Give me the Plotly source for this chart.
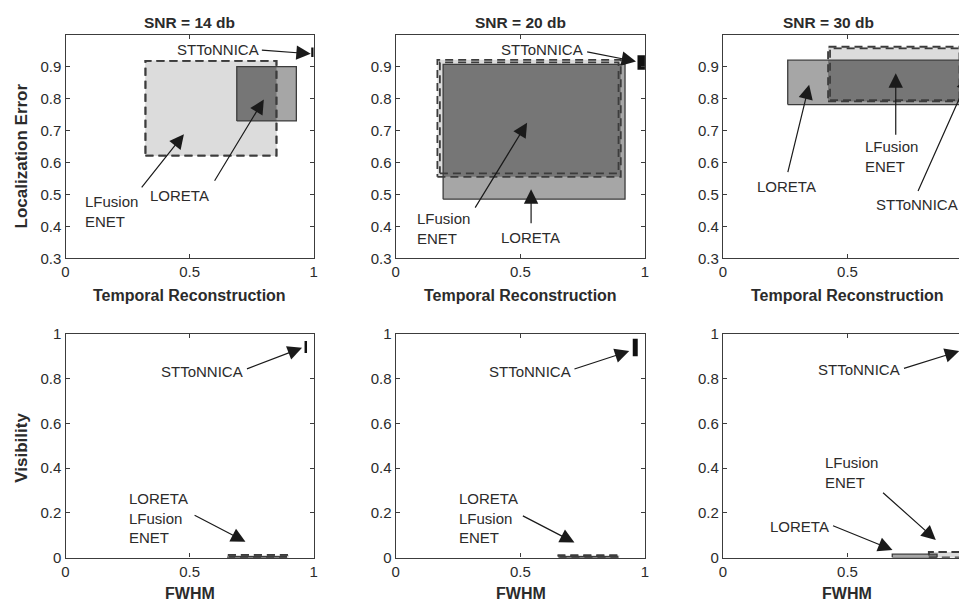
import plotly.graph_objects as go

# ---------------- data ----------------
snr_titles = ["SNR = 14 db", "SNR = 20 db", "SNR = 30 db"]
x_ticks = [0, 0.5, 1]
x_ticktext = ["0", "0.5", "1"]
le_ticks = [0.3, 0.4, 0.5, 0.6, 0.7, 0.8, 0.9]
vis_ticks = [0, 0.2, 0.4, 0.6, 0.8, 1]
vis_ticktext = ["0", "0.2", "0.4", "0.6", "0.8", "1"]

# boxes as [x0, x1, y0, y1]  (Temporal Reconstruction vs Localization Error)
loreta_le = [[0.69, 0.93, 0.73, 0.90], [0.19, 0.92, 0.485, 0.907], [0.26, 0.955, 0.781, 0.92]]
lfusion_le = [[0.322, 0.85, 0.621, 0.918], [0.167, 0.903, 0.555, 0.921], [0.422, 0.956, 0.791, 0.962]]
enet_le = [[0.322, 0.85, 0.621, 0.918], [0.177, 0.894, 0.566, 0.913], [0.43, 0.950, 0.795, 0.957]]
sttonnica_le = [[0.99, 1.0, 0.93, 0.96], [0.97, 1.0, 0.89, 0.935], [0.985, 1.0, 0.90, 0.96]]

# boxes as [x0, x1, y0, y1]  (FWHM vs Visibility)
loreta_vis = [[0.66, 0.89, 0.0, 0.004], [0.66, 0.89, 0.0, 0.004], [0.68, 0.86, 0.0, 0.015]]
lfusion_vis = [[0.651, 0.899, 0.0, 0.012], [0.653, 0.897, 0.0, 0.010], [0.827, 0.956, 0.0, 0.025]]
enet_vis = [[0.651, 0.899, 0.0, 0.012], [0.653, 0.897, 0.0, 0.010], [0.827, 0.956, 0.0, 0.025]]
sttonnica_vis = [[0.963, 0.973, 0.915, 0.968], [0.951, 0.971, 0.90, 0.978], [0.958, 0.99, 0.90, 0.975]]

# ---------------- styling ----------------
FONT = "Liberation Sans, Arial, sans-serif"
TXT = "#2b2b2b"
AX = "#3c3c3c"
LIGHT = "#dcdcdc"
MID = "#a6a6a6"
DARK = "#767676"
BLACK = "#111111"
DASH = "8px,5px"

W, H = 967, 607
# mapping from the wanted on-screen pixel to figure paper coordinates
SX, OX = 0.991, 11.5
SY, OY = 0.9776, 15.3


def px2x(p):
    return ((p - OX) / SX) / W


def py2y(p):
    return 1 - ((p - OY) / SY) / H


x_domains = [[px2x(65), px2x(313)], [px2x(395), px2x(644)], [px2x(722), 1.0]]
y_domains = [[py2y(258), py2y(33)], [py2y(559), py2y(334)]]
unit3 = (px2x(970.7) - px2x(722)) * W  # div pixels for one x-unit in the third column
x_ranges = [[0, 1.0], [0, 1.0], [0, (W - px2x(722) * W) / unit3]]

fig = go.Figure()


def rect_xy(b):
    x0, x1, y0, y1 = b
    return [x0, x1, x1, x0, x0], [y0, y0, y1, y1, y0]


def inter(a, b):
    x0, x1 = max(a[0], b[0]), min(a[1], b[1])
    y0, y1 = max(a[2], b[2]), min(a[3], b[3])
    if x1 <= x0 or y1 <= y0:
        return None
    return [x0, x1, y0, y1]


def add_fill(b, color, xa, ya):
    xs, ys = rect_xy(b)
    fig.add_trace(go.Scatter(x=xs, y=ys, mode="lines", fill="toself", fillcolor=color,
                             line=dict(width=0, color=color), hoverinfo="skip",
                             showlegend=False, xaxis=xa, yaxis=ya))


def add_edge(b, color, dash, width, xa, ya):
    xs, ys = rect_xy(b)
    fig.add_trace(go.Scatter(x=xs, y=ys, mode="lines",
                             line=dict(width=width, color=color, dash=dash), hoverinfo="skip",
                             showlegend=False, xaxis=xa, yaxis=ya))


panels = []
for c in range(3):
    panels.append((0, c, loreta_le[c], lfusion_le[c], enet_le[c], sttonnica_le[c]))
for c in range(3):
    panels.append((1, c, loreta_vis[c], lfusion_vis[c], enet_vis[c], sttonnica_vis[c]))

for k, (r, c, lor, lfu, ene, stt) in enumerate(panels):
    idx = k + 1
    xa = "x" if idx == 1 else f"x{idx}"
    ya = "y" if idx == 1 else f"y{idx}"
    add_fill(lfu, LIGHT, xa, ya)
    add_fill(ene, LIGHT, xa, ya)
    add_fill(lor, MID, xa, ya)
    ov = inter(lor, lfu)
    if ov:
        add_fill(ov, DARK, xa, ya)
    add_edge(lor, AX, "solid", 1.3, xa, ya)
    add_edge(lfu, AX, DASH, 1.8, xa, ya)
    add_edge(ene, AX, DASH, 1.8, xa, ya)
    if r == 0 and c == 2:
        add_fill(stt, LIGHT, xa, ya)
        add_edge(stt, AX, "solid", 1.3, xa, ya)
    else:
        add_fill(stt, BLACK, xa, ya)

    common = dict(showgrid=False, zeroline=False, showline=True, linecolor=AX, linewidth=1.3,
                  ticks="inside", ticklen=4, tickcolor=AX, tickwidth=1,
                  tickfont=dict(family=FONT, size=15, color=TXT), fixedrange=True)
    xkey = "xaxis" if idx == 1 else f"xaxis{idx}"
    ykey = "yaxis" if idx == 1 else f"yaxis{idx}"
    fig.update_layout(**{
        xkey: dict(domain=x_domains[c], range=x_ranges[c], anchor=ya,
                   tickvals=x_ticks, ticktext=x_ticktext, mirror="ticks", **common),
        ykey: dict(domain=y_domains[r], anchor=xa,
                   range=[0.3, 1.0] if r == 0 else [0, 1.0],
                   tickvals=le_ticks if r == 0 else vis_ticks,
                   ticktext=([f"{v:.1f}" for v in le_ticks] if r == 0 else vis_ticktext),
                   mirror=("ticks" if c < 2 else False), **common),
    })

# ---------------- annotations ----------------
# (panel index, text, text x, text y, tail x, tail y, head x, head y)
arrows = [
    (1, "STToNNICA", 0.614, 0.952, 0.785, 0.952, 0.988, 0.940),
    (1, "LFusion<br>ENET", 0.185, 0.448, 0.302, 0.517, 0.477, 0.688),
    (1, "LORETA", 0.459, 0.497, 0.597, 0.538, 0.799, 0.797),
    (2, "STToNNICA", 0.587, 0.952, 0.762, 0.947, 0.964, 0.916),
    (2, "LFusion<br>ENET", 0.191, 0.394, 0.315, 0.454, 0.527, 0.724),
    (2, "LORETA", 0.540, 0.365, 0.543, 0.405, 0.543, 0.516),
    (3, "LORETA", 0.255, 0.526, 0.259, 0.565, 0.346, 0.843),
    (3, "LFusion<br>ENET", 0.676, 0.618, 0.694, 0.682, 0.694, 0.879),
    (3, "STToNNICA", 0.781, 0.469, 0.781, 0.506, 0.989, 0.869),
    (4, "STToNNICA", 0.550, 0.834, 0.725, 0.841, 0.953, 0.938),
    (4, "LORETA<br>LFusion<br>ENET", 0.375, 0.178, 0.514, 0.193, 0.725, 0.071),
    (5, "STToNNICA", 0.537, 0.834, 0.711, 0.841, 0.937, 0.923),
    (5, "LORETA<br>LFusion<br>ENET", 0.371, 0.178, 0.504, 0.190, 0.717, 0.067),
    (6, "STToNNICA", 0.546, 0.841, 0.721, 0.844, 0.949, 0.923),
    (6, "LFusion<br>ENET", 0.515, 0.379, 0.637, 0.296, 0.855, 0.079),
    (6, "LORETA", 0.308, 0.138, 0.436, 0.145, 0.681, 0.034),
]

annotations = []
for (p, txt, tx, ty, ax0, ay0, hx, hy) in arrows:
    xr = "x" if p == 1 else f"x{p}"
    yr = "y" if p == 1 else f"y{p}"
    annotations.append(dict(xref=xr, yref=yr, x=tx, y=ty, text=txt, showarrow=False,
                            align="left", font=dict(family=FONT, size=15, color=TXT)))
    annotations.append(dict(xref=xr, yref=yr, x=hx, y=hy, axref=xr, ayref=yr, ax=ax0, ay=ay0,
                            text="", showarrow=True, arrowhead=2, arrowsize=2.4,
                            arrowwidth=1.2, arrowcolor="#1a1a1a", standoff=0, startstandoff=0))

title_x_px = [189, 520, 827]
for t, px in zip(snr_titles, title_x_px):
    annotations.append(dict(xref="paper", yref="paper", x=px2x(px), y=1 - 5.5 / H, text=f"<b>{t}</b>",
                            showarrow=False, xanchor="center", yanchor="middle",
                            font=dict(family=FONT, size=15.5, color=TXT)))

xt_px = [189, 520, 846]
for px in xt_px:
    annotations.append(dict(xref="paper", yref="paper", x=px2x(px), y=py2y(295),
                            text="<b>Temporal Reconstruction</b>", showarrow=False,
                            xanchor="center", yanchor="middle",
                            font=dict(family=FONT, size=16, color=TXT)))
    annotations.append(dict(xref="paper", yref="paper", x=px2x(px), y=py2y(595),
                            text="<b>FWHM</b>", showarrow=False,
                            xanchor="center", yanchor="middle",
                            font=dict(family=FONT, size=16, color=TXT)))

annotations.append(dict(xref="paper", yref="paper", x=px2x(21), y=py2y(155),
                        text="<b>Localization Error</b>", textangle=-90, showarrow=False,
                        xanchor="center", yanchor="middle",
                        font=dict(family=FONT, size=17, color=TXT)))
annotations.append(dict(xref="paper", yref="paper", x=px2x(21), y=py2y(449),
                        text="<b>Visibility</b>", textangle=-90, showarrow=False,
                        xanchor="center", yanchor="middle",
                        font=dict(family=FONT, size=17, color=TXT)))

fig.update_layout(width=W, height=H, margin=dict(l=0, r=0, t=0, b=0),
                  paper_bgcolor="white", plot_bgcolor="white", showlegend=False,
                  annotations=annotations)

fig.write_html("out.html")
